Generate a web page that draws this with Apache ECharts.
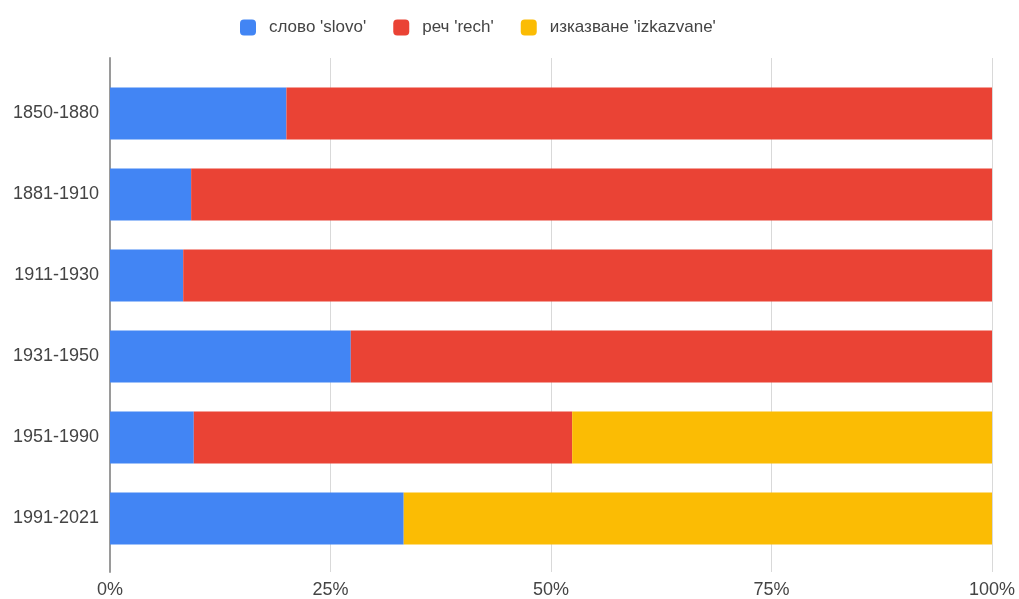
<!DOCTYPE html>
<html>
<head>
<meta charset="utf-8">
<script src="https://cdn.jsdelivr.net/npm/echarts@6/dist/echarts.min.js"></script>
<style>
  html, body { margin: 0; padding: 0; background: #fff; }
  #chart { width: 1019px; height: 599px; }
</style>
</head>
<body>
<div id="chart"></div>
<script>
// Periods, top to bottom
const periods = ['1850-1880', '1881-1910', '1911-1930', '1931-1950', '1951-1990', '1991-2021'];

// Share of each word per period, in percent
const slovo = [20.0, 9.2, 8.3, 27.3, 9.5, 33.3];
const rech = [80.0, 90.8, 91.7, 72.7, 42.9, 0];
const izkazvane = [0, 0, 0, 0, 47.6, 66.7];

const seriesNames = ["слово 'slovo'", "реч 'rech'", "изказване 'izkazvane'"];
const seriesColors = ['#4285F4', '#EA4335', '#FBBC04'];

const FONT = 'Liberation Sans, Arial, sans-serif';
const LEFT = 110, RIGHT = 27;

const chart = echarts.init(document.getElementById('chart'), null, { renderer: 'canvas' });

function barSeries(name, data, color) {
  return {
    name: name,
    type: 'bar',
    stack: 'total',
    xAxisIndex: 1,
    yAxisIndex: 1,
    barCategoryGap: '36%',
    itemStyle: { color: color },
    emphasis: { disabled: true },
    data: data
  };
}

chart.setOption({
  animation: false,
  color: seriesColors,
  textStyle: { fontFamily: FONT },
  legend: {
    top: 14,
    left: 235,
    icon: 'roundRect',
    itemWidth: 16,
    itemHeight: 16,
    itemGap: 27,
    textStyle: { fontFamily: FONT, fontSize: 17, color: '#444', padding: [0, 0, 0, 8] },
    data: seriesNames
  },
  grid: [
    // frame for gridlines, axis line and percent ticks
    { left: LEFT, right: RIGHT, top: 58, bottom: 27 },
    // plotting area for the bars
    { left: LEFT, right: RIGHT, top: 73, bottom: 40 }
  ],
  xAxis: [
    {
      type: 'value', gridIndex: 0, min: 0, max: 100, interval: 25,
      axisLine: { show: false }, axisTick: { show: false },
      splitLine: { lineStyle: { color: '#d9d9d9', width: 1 } },
      axisLabel: { formatter: '{value}%', color: '#444', fontSize: 18, fontFamily: FONT, margin: 9 }
    },
    {
      type: 'value', gridIndex: 1, min: 0, max: 100, interval: 25,
      show: false, splitLine: { show: false }
    }
  ],
  yAxis: [
    {
      type: 'value', gridIndex: 0, min: 0, max: 1,
      axisLine: { show: true, lineStyle: { color: '#9a9a9a', width: 2 } },
      axisTick: { show: false }, axisLabel: { show: false }, splitLine: { show: false }
    },
    {
      type: 'category', gridIndex: 1, inverse: true, data: periods,
      axisLine: { show: false }, axisTick: { show: false },
      axisLabel: { color: '#444', fontSize: 18, fontFamily: FONT, margin: 11 }
    }
  ],
  series: [
    barSeries(seriesNames[0], slovo, seriesColors[0]),
    barSeries(seriesNames[1], rech, seriesColors[1]),
    barSeries(seriesNames[2], izkazvane, seriesColors[2])
  ]
});
</script>
</body>
</html>
